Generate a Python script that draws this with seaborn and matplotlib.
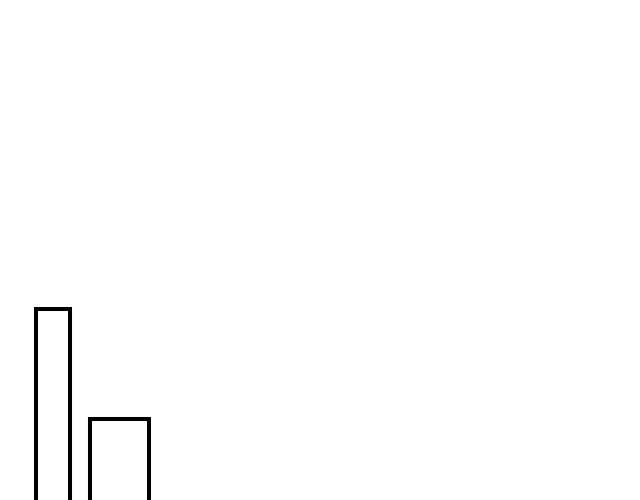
import matplotlib
matplotlib.use("Agg")
import matplotlib.pyplot as plt
import seaborn as sns

# bar data
lefts = [3.55, 9.03]
widths = [3.42, 5.84]
heights = [20.1, 9.1]

sns.set_style("white")

fig = plt.figure(figsize=(6.4, 5.0), dpi=100)
ax = fig.add_axes([0, 0, 1, 1])

ax.bar(lefts, heights, width=widths, align="edge",
       facecolor="none", edgecolor="black", linewidth=2.9)

ax.set_xlim(0, 64)
ax.set_ylim(1, 51)
ax.set_axis_off()
sns.despine(left=True, bottom=True)

fig.savefig("out.png", dpi=100, facecolor="white")
